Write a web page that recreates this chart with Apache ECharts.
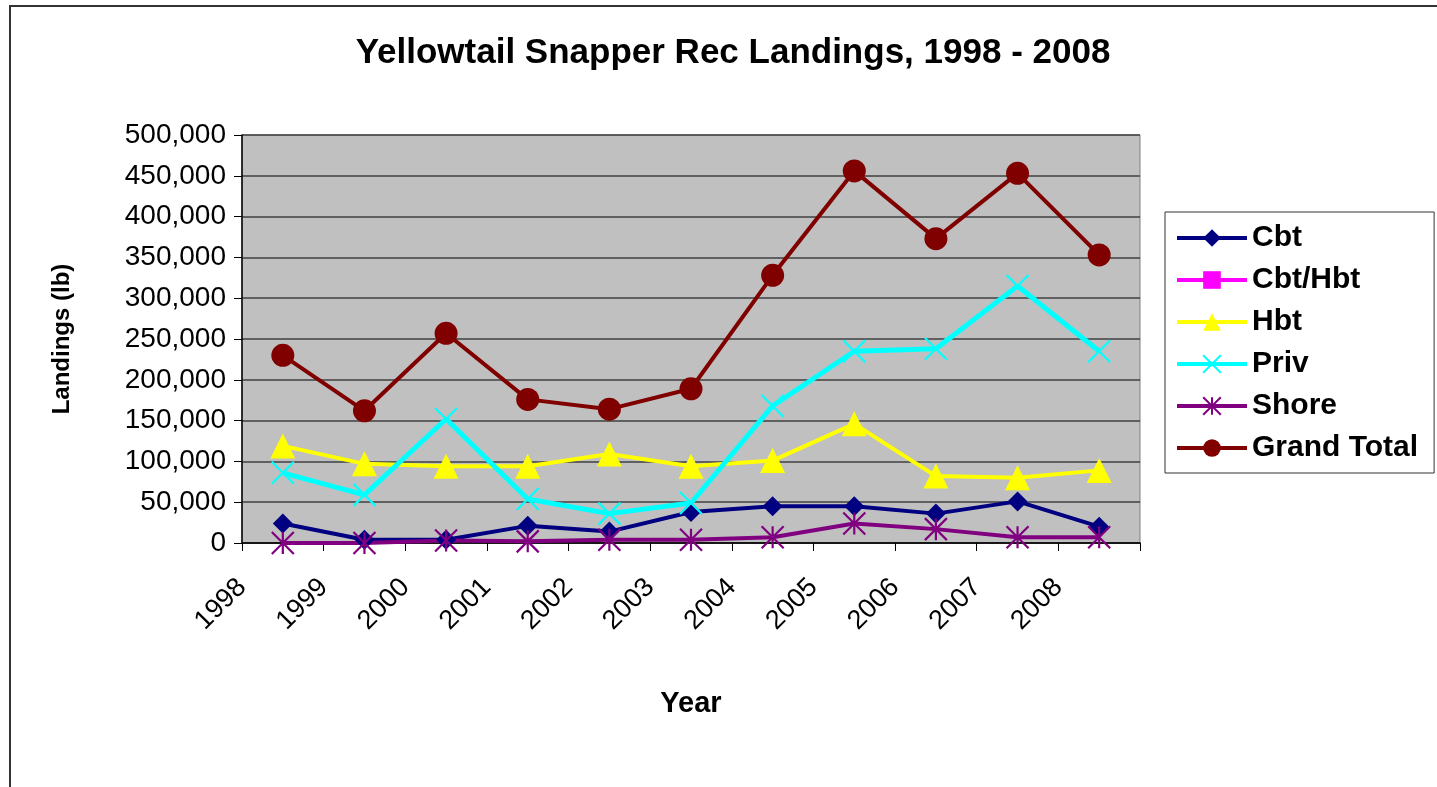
<!DOCTYPE html>
<html>
<head>
<meta charset="utf-8">
<script src="https://cdn.jsdelivr.net/npm/echarts@6/dist/echarts.min.js"></script>
<style>
  html, body { margin: 0; padding: 0; background: #fff; }
  #chart { width: 1437px; height: 787px; }
</style>
</head>
<body>
<div id="chart"></div>
<script>
// data
const years = ['1998', '1999', '2000', '2001', '2002', '2003', '2004', '2005', '2006', '2007', '2008']
const cbt = [24000, 4000, 4000, 21000, 14000, 38000, 45000, 45000, 36000, 51000, 20000]
const cbtHbt = [null, null, null, null, null, null, null, null, null, null, null]
const hbt = [119000, 97000, 94000, 94000, 109000, 94000, 101000, 146000, 82000, 80000, 89000]
const priv = [86000, 59000, 152000, 54000, 36000, 49000, 168000, 235000, 238000, 315000, 235000]
const shore = [0, 0, 3000, 2000, 4000, 4000, 7000, 24000, 17000, 7000, 7000]
const grandTotal = [230000, 162000, 257000, 176000, 164000, 189000, 328000, 456000, 373000, 453000, 353000]

const FONT = "'Liberation Sans', Arial, sans-serif"
const CROSS = 'path://M0 0L10 10M10 0L0 10'
const STAR = 'path://M0 0L10 10M10 0L0 10M5 0L5 10'

const chart = echarts.init(document.getElementById('chart'))

function lineSeries (name, data, color, symbol, size, width, stroke) {
  return {
    name: name,
    type: 'line',
    data: data,
    xAxisIndex: 0,
    symbol: symbol,
    symbolSize: size,
    showAllSymbol: true,
    connectNulls: false,
    lineStyle: { color: color, width: width },
    itemStyle: stroke
      ? { color: color, borderColor: color, borderWidth: 2.2 }
      : { color: color, borderWidth: 0 },
    emphasis: { disabled: true },
    animation: false
  }
}

const option = {
  animation: false,
  textStyle: { fontFamily: FONT },
  title: {
    text: 'Yellowtail Snapper Rec Landings, 1998 - 2008',
    left: 728,
    textAlign: 'center',
    top: 31,
    textStyle: { fontFamily: FONT, fontSize: 35, fontWeight: 'bold', color: '#000' }
  },
  graphic: [
    {
      type: 'polyline',
      shape: { points: [[10, 787], [10, 6], [1437, 6]] },
      style: { stroke: '#333', lineWidth: 2, fill: null },
      silent: true
    }
  ],
  legend: {
    orient: 'vertical',
    left: 1165,
    top: 212,
    padding: [11, 16, 10, 10],
    itemWidth: 70,
    itemHeight: 22,
    itemGap: 12,
    borderColor: '#333',
    borderWidth: 1,
    backgroundColor: '#fff',
    lineStyle: { width: 4 },
    textStyle: { fontFamily: FONT, fontSize: 30, fontWeight: 'bold', color: '#000' },
    data: ['Cbt', 'Cbt/Hbt', 'Hbt', 'Priv', 'Shore', 'Grand Total']
  },
  grid: {
    left: 242,
    right: 297,
    top: 135,
    bottom: 244,
    show: true,
    backgroundColor: '#c0c0c0',
    borderColor: '#808080',
    borderWidth: 1
  },
  xAxis: [
    {
      type: 'category',
      data: years,
      boundaryGap: true,
      axisLine: { lineStyle: { color: '#000', width: 1.5 } },
      axisTick: { show: true, length: 8, lineStyle: { color: '#000', width: 1 } },
      axisLabel: { show: false },
      splitLine: { show: false }
    },
    {
      // label axis: years sit on the tick marks, like the reference
      type: 'category',
      position: 'bottom',
      data: years.concat(['']),
      boundaryGap: false,
      axisLine: { show: false },
      axisTick: { show: false },
      axisLabel: {
        rotate: 45,
        margin: 40,
        interval: 0,
        fontFamily: FONT,
        fontSize: 27,
        color: '#000'
      },
      name: 'Year',
      nameLocation: 'middle',
      nameGap: 146,
      nameTextStyle: { fontFamily: FONT, fontSize: 29, fontWeight: 'bold', color: '#000' }
    }
  ],
  yAxis: {
    type: 'value',
    min: 0,
    max: 500000,
    interval: 50000,
    name: 'Landings (lb)',
    nameLocation: 'middle',
    nameGap: 168,
    nameRotate: 90,
    nameTextStyle: { fontFamily: FONT, fontSize: 24, fontWeight: 'bold', color: '#000' },
    axisLine: { show: true, lineStyle: { color: '#000', width: 1.5 } },
    axisTick: { show: true, length: 8, lineStyle: { color: '#000' } },
    axisLabel: {
      margin: 16,
      fontFamily: FONT,
      fontSize: 28,
      color: '#000',
      formatter: (v) => v.toLocaleString('en-US')
    },
    splitLine: { show: true, lineStyle: { color: '#404040', width: 1.5 } }
  },
  series: [
    lineSeries('Cbt', cbt, '#000080', 'diamond', 20, 4, false),
    lineSeries('Cbt/Hbt', cbtHbt, '#ff00ff', 'rect', 16, 4, false),
    lineSeries('Hbt', hbt, '#ffff00', 'triangle', 25, 4, false),
    lineSeries('Priv', priv, '#00ffff', CROSS, 22, 5, true),
    lineSeries('Shore', shore, '#800080', STAR, 22, 4, true),
    lineSeries('Grand Total', grandTotal, '#800000', 'circle', 23, 4, false)
  ]
}

chart.setOption(option)
</script>
</body>
</html>
